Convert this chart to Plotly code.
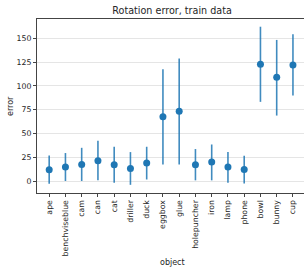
import plotly.graph_objects as go

objects = ["ape", "benchviseblue", "cam", "can", "cat", "driller", "duck", "eggbox",
           "glue", "holepuncher", "iron", "lamp", "phone", "bowl", "bunny", "cup"]
mean_err = [11.9, 14.7, 17.4, 21.3, 17.1, 13.2, 18.9, 67.5, 73.4, 17.1, 19.9, 14.7, 12.2, 122.8, 109.1, 122.0]
upper = [26.9, 29.4, 34.9, 42.3, 36.0, 30.4, 36.0, 117.5, 128.7, 33.6, 38.4, 30.4, 26.6, 162.2, 148.3, 154.2]
lower = [-2.8, 0.0, 0.0, 0.7, -1.8, -4.0, 1.6, 17.4, 17.4, 0.7, 0.7, -1.8, -2.5, 83.2, 68.8, 89.8]
yticks = [0, 25, 50, 75, 100, 125, 150]

plus = [u - m for u, m in zip(upper, mean_err)]
minus = [m - l for m, l in zip(mean_err, lower)]

blue = "#1f77b4"
fig = go.Figure(go.Scatter(
    x=objects, y=mean_err, mode="markers",
    marker=dict(color=blue, size=7),
    error_y=dict(type="data", array=plus, arrayminus=minus, symmetric=False,
                 color="rgba(31,119,180,0.85)", thickness=1.6, width=0),
))

font = "DejaVu Sans"
fig.update_layout(
    width=304, height=268,
    margin=dict(l=37, r=0, t=19, b=75),
    paper_bgcolor="white", plot_bgcolor="white",
    showlegend=False,
    font=dict(family=font, size=8, color="#262626"),
    title=dict(text="Rotation error, train data", x=0.566, xanchor="center",
               y=1 - 11 / 268, yanchor="middle", font=dict(size=9.6, color="#262626")),
    annotations=[
        dict(text="object", xref="paper", yref="paper", x=(172 - 37) / 267,
             y=-(262 - 193) / 174, xanchor="center", yanchor="middle",
             showarrow=False, font=dict(size=8)),
        dict(text="error", xref="paper", yref="paper", x=-(37 - 10) / 267,
             y=(193 - 106) / 174, xanchor="center", yanchor="middle",
             textangle=-90, showarrow=False, font=dict(size=8)),
    ],
)
fig.update_xaxes(
    type="category", range=[-0.75, 15.68], tickangle=-90, automargin=False,
    showline=True, linecolor="#444", linewidth=1, mirror=True,
    ticks="outside", ticklen=3, tickcolor="#444", showgrid=False,
    tickfont=dict(size=7.8),
)
fig.update_yaxes(
    range=[-12.6, 170.3], tickvals=yticks, automargin=False,
    showline=True, linecolor="#444", linewidth=1, mirror=False,
    ticks="outside", ticklen=3, tickcolor="#444",
    showgrid=True, gridcolor="#e5e5e5", gridwidth=1, zeroline=False,
    tickfont=dict(size=7.8),
)
fig.write_html("out.html", config={"displayModeBar": False},
               post_script="document.body.style.margin='0';document.body.style.overflow='hidden';")
